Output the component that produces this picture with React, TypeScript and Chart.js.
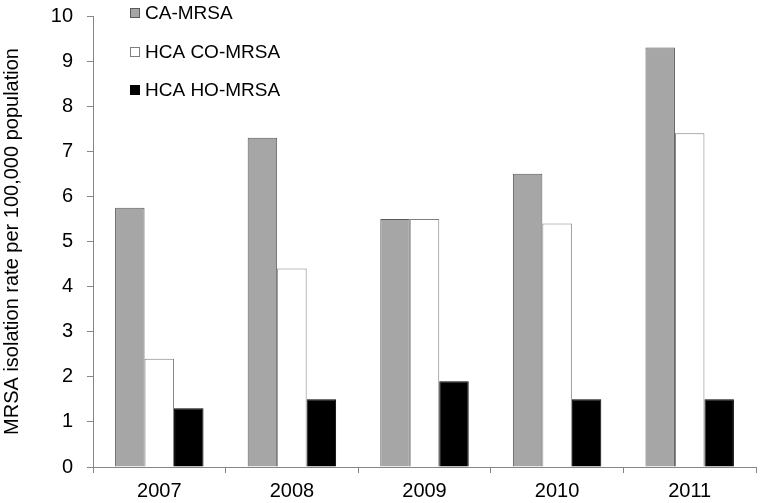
import React, { useEffect, useRef } from "react";
import { Chart, registerables } from "chart.js";

Chart.register(...registerables);

const categories = ["2007", "2008", "2009", "2010", "2011"];
const seriesNames = ["CA-MRSA", "HCA CO-MRSA", "HCA HO-MRSA"];
const caMrsa = [5.75, 7.3, 5.5, 6.5, 9.3];
const hcaCoMrsa = [2.4, 4.4, 5.5, 5.4, 7.4];
const hcaHoMrsa = [1.3, 1.5, 1.9, 1.5, 1.5];
const yTicks = [0, 1, 2, 3, 4, 5, 6, 7, 8, 9, 10];
const yTitle = "MRSA isolation rate per 100,000 population";

const FONT = "'Liberation Sans', Arial, sans-serif";

const legendPlugin = {
  id: "insideLegend",
  afterDraw(chart: any) {
    const ctx = chart.ctx;
    const left = chart.chartArea.left + 37;
    const rows = [13, 52, 90];
    ctx.save();
    chart.data.datasets.forEach((ds: any, i: number) => {
      const y = rows[i];
      ctx.fillStyle = ds.backgroundColor;
      ctx.fillRect(left, y - 5, 10, 10);
      ctx.strokeStyle = ds.borderColor;
      ctx.lineWidth = 1;
      ctx.strokeRect(left + 0.5, y - 4.5, 9, 9);
      ctx.fillStyle = "#000";
      ctx.font = "19px " + FONT;
      ctx.textBaseline = "middle";
      ctx.textAlign = "left";
      ctx.fillText(ds.label, left + 15, y + 1);
    });
    ctx.restore();
  },
};

export default function App() {
  const ref = useRef<HTMLCanvasElement>(null);
  useEffect(() => {
    document.body.style.margin = "0";
    const chart = new Chart(ref.current!, {
      type: "bar",
      data: {
        labels: categories,
        datasets: [
          { label: seriesNames[0], data: caMrsa, backgroundColor: "#a6a6a6", borderColor: "#5a5a5a", borderWidth: 1 },
          { label: seriesNames[1], data: hcaCoMrsa, backgroundColor: "#ffffff", borderColor: "#7f7f7f", borderWidth: 1 },
          { label: seriesNames[2], data: hcaHoMrsa, backgroundColor: "#000000", borderColor: "#000000", borderWidth: 1 },
        ],
      },
      options: {
        animation: false,
        responsive: false,
        maintainAspectRatio: false,
        layout: { padding: { left: 0, right: 5, top: 16, bottom: 0 } },
        plugins: { legend: { display: false }, tooltip: { enabled: false } },
        datasets: { bar: { categoryPercentage: 0.667, barPercentage: 1 } },
        scales: {
          x: {
            grid: { offset: true, drawOnChartArea: false, tickLength: 6, color: "#868686" },
            border: { color: "#868686", width: 1 },
            ticks: { color: "#000", font: { family: FONT, size: 20 }, padding: 6 },
            afterFit: (s: any) => { s.height = 36; s.paddingLeft = 0; s.paddingRight = 0; },
          },
          y: {
            min: 0,
            max: 10,
            afterBuildTicks: (s: any) => { s.ticks = yTicks.map((v) => ({ value: v })); },
            grid: { drawOnChartArea: false, tickLength: 6, color: "#868686" },
            border: { color: "#868686", width: 1 },
            ticks: { color: "#000", font: { family: FONT, size: 20 }, padding: 14 },
            title: { display: true, text: yTitle, color: "#000", font: { family: FONT, size: 20 }, padding: { top: 0, bottom: 0 } },
            afterFit: (s: any) => { s.width = 93; s.paddingTop = 0; s.paddingBottom = 0; },
          },
        },
      },
      plugins: [legendPlugin],
    });
    return () => chart.destroy();
  }, []);
  return <canvas ref={ref} width={761} height={503} style={{ display: "block" }} />;
}
